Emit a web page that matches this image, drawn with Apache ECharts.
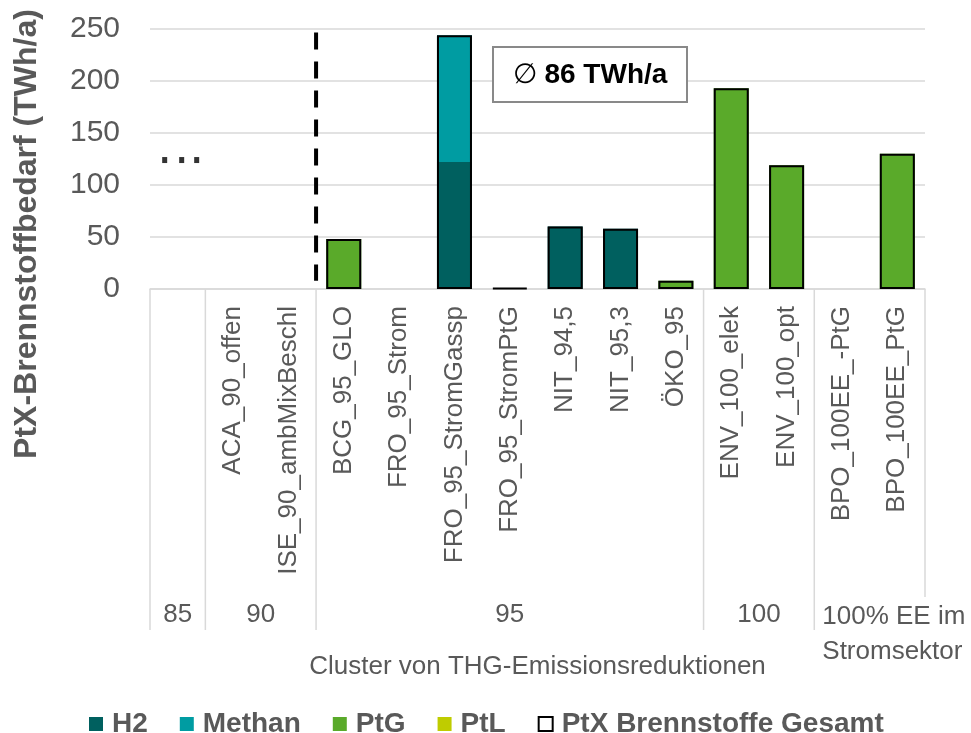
<!DOCTYPE html>
<html>
<head>
<meta charset="utf-8">
<script src="https://cdn.jsdelivr.net/npm/echarts@6/dist/echarts.min.js"></script>
<style>
html,body{margin:0;padding:0;background:#fff;}
#main{width:971px;height:733px;}
</style>
</head>
<body>
<div id="main"></div>
<script>
// ---- data ----
var categories = ['', 'ACA_90_offen', 'ISE_90_ambMixBeschl', 'BCG_95_GLO', 'FRO_95_Strom', 'FRO_95_StromGassp', 'FRO_95_StromPtG', 'NIT_94,5', 'NIT_95,3', 'ÖKO_95', 'ENV_100_elek', 'ENV_100_opt', 'BPO_100EE_-PtG', 'BPO_100EE_PtG'];
var h2      = [0, 0, 0, 0, 0, 122, 0, 60, 58, 0, 0, 0, 0, 0];
var methan  = [0, 0, 0, 0, 0, 122, 0, 0, 0, 0, 0, 0, 0, 0];
var ptg     = [0, 0, 0, 48, 0, 0, 0, 0, 0, 8, 193, 119, 0, 130];
var ptl     = [0, 0, 0, 0, 0, 0, 0, 0, 0, 0, 0, 0, 0, 0];
var gesamt  = [null, null, null, 48, null, 244, 1, 60, 58, 8, 193, 119, null, 130];
var groupLabels = ['85', '90', '95', '100', '100% EE im\nStromsektor'];
var groupSizes  = [1, 2, 7, 2, 2];
var yTicks = [0, 50, 100, 150, 200, 250];
var dotsValue = 124;           // "..." marker in cluster 85
var averageText = '86 TWh/a';  // average annotation
var yTitle = 'PtX-Brennstoffbedarf (TWh/a)';

var FONT = "'Liberation Sans', Arial, sans-serif";
var GREY = '#595959';
var C_H2 = '#00605F', C_ME = '#009CA2', C_PTG = '#5AAA2A', C_PTL = '#BFCC00';

var chart = echarts.init(document.getElementById('main'));

var barCommon = {type: 'bar', stack: 'ptx', barWidth: 35, barGap: '-100%', z: 2};

var option = {
  animation: false,
  backgroundColor: '#fff',
  textStyle: {fontFamily: FONT},
  grid: {left: 150, right: 46, top: 29, bottom: 444, containLabel: false, outerBoundsMode: 'none'},
  legend: {
    left: 84, top: 705,
    icon: 'rect', itemWidth: 14, itemHeight: 14, itemGap: 32,
    textStyle: {fontFamily: FONT, fontSize: 28, fontWeight: 'bold', color: GREY, padding: [0, 0, 0, 4]},
    data: [
      {name: 'H2'}, {name: 'Methan'}, {name: 'PtG'}, {name: 'PtL'},
      {name: 'PtX Brennstoffe Gesamt', itemStyle: {color: '#fff', borderColor: '#000', borderWidth: 2}}
    ]
  },
  xAxis: {
    type: 'category',
    data: categories,
    axisLine: {lineStyle: {color: '#D9D9D9', width: 1.5}},
    axisTick: {show: false},
    axisLabel: {rotate: 90, interval: 0, margin: 17, fontSize: 26, color: GREY, fontFamily: FONT},
    name: 'Cluster von THG-Emissionsreduktionen',
    nameLocation: 'middle',
    nameGap: 365,
    nameTextStyle: {fontSize: 26, color: GREY, fontFamily: FONT}
  },
  yAxis: {
    type: 'value', min: yTicks[0], max: yTicks[yTicks.length - 1], interval: yTicks[1] - yTicks[0],
    axisLine: {show: false}, axisTick: {show: false},
    axisLabel: {fontSize: 30, color: GREY, margin: 30, fontFamily: FONT},
    splitLine: {lineStyle: {color: '#D9D9D9', width: 1.5}}
  },
  series: [
    Object.assign({}, barCommon, {name: 'H2', data: h2, itemStyle: {color: C_H2}}),
    Object.assign({}, barCommon, {name: 'Methan', data: methan, itemStyle: {color: C_ME}}),
    Object.assign({}, barCommon, {name: 'PtG', data: ptg, itemStyle: {color: C_PTG}}),
    Object.assign({}, barCommon, {name: 'PtL', data: ptl, itemStyle: {color: C_PTL}}),
    {type: 'bar', name: 'PtX Brennstoffe Gesamt', data: gesamt, barWidth: 35, barGap: '-100%', z: 5,
     itemStyle: {color: 'rgba(0,0,0,0)', borderColor: '#000', borderWidth: 2}},
    {type: 'scatter', name: 'dots', symbol: 'rect', symbolSize: [5, 6], z: 6,
     itemStyle: {color: '#000'},
     data: [
       {value: [0, dotsValue], symbolOffset: [-13, 0]},
       {value: [0, dotsValue], symbolOffset: [4, 0]},
       {value: [0, dotsValue], symbolOffset: [19, 0]}
     ]}
  ]
};
chart.setOption(option);

// ---- derived annotations from the library's scales ----
function px(i) { return chart.convertToPixel({xAxisIndex: 0}, i); }
function py(v) { return chart.convertToPixel({yAxisIndex: 0}, v); }
var step = px(1) - px(0);
function boundary(i) { return px(0) + (i - 0.5) * step; }
var y0 = py(0);
var graphics = [];
// y-axis title
graphics.push({type: 'text', x: 27, y: 234, rotation: Math.PI / 2, silent: true,
  style: {text: yTitle, font: 'bold 32px ' + FONT, fill: GREY, textAlign: 'center', textVerticalAlign: 'middle'}});
// separators & group labels
var idx = 0;
for (var g = 0; g < groupSizes.length; g++) {
  var start = idx, end = idx + groupSizes[g];
  var xl = boundary(start), xr = boundary(end);
  graphics.push({type: 'line', shape: {x1: xl, y1: y0, x2: xl, y2: y0 + 341}, style: {stroke: '#D9D9D9', lineWidth: 1.5}, silent: true});
  var last = (g === groupSizes.length - 1);
  if (last) {
    graphics.push({type: 'line', shape: {x1: xr, y1: y0, x2: xr, y2: y0 + 308}, style: {stroke: '#D9D9D9', lineWidth: 1.5}, silent: true});
    graphics.push({type: 'text', x: xl + 8, y: y0 + 310, style: {text: groupLabels[g], font: '26px ' + FONT, fill: GREY, textAlign: 'left', textVerticalAlign: 'top', lineHeight: 35}, silent: true});
  } else {
    graphics.push({type: 'text', x: (xl + xr) / 2, y: y0 + 326, style: {text: groupLabels[g], font: '26px ' + FONT, fill: GREY, textAlign: 'center', textVerticalAlign: 'middle'}, silent: true});
  }
  idx = end;
}
// dashed separator between cluster 90 and 95
var xd = boundary(3);
graphics.push({type: 'line', shape: {x1: xd, y1: py(246.7), x2: xd, y2: py(8)}, style: {stroke: '#000', lineWidth: 4, lineDash: [17, 12]}, silent: true, z: 10});
// average box
graphics.push({type: 'group', left: 492, top: 46, silent: true, z: 10, children: [
  {type: 'rect', shape: {x: 0, y: 0, width: 194, height: 55}, style: {fill: '#fff', stroke: '#898989', lineWidth: 2}},
  {type: 'text', x: 97, y: 28, style: {
    text: '{a|∅ }{b|' + averageText + '}', textAlign: 'center', textVerticalAlign: 'middle',
    rich: {a: {fontFamily: FONT, fontSize: 28, fill: '#000', color: '#000'}, b: {fontFamily: FONT, fontSize: 28, fontWeight: 'bold', fill: '#000', color: '#000'}}
  }}
]});
chart.setOption({graphic: graphics});
</script>
</body>
</html>
